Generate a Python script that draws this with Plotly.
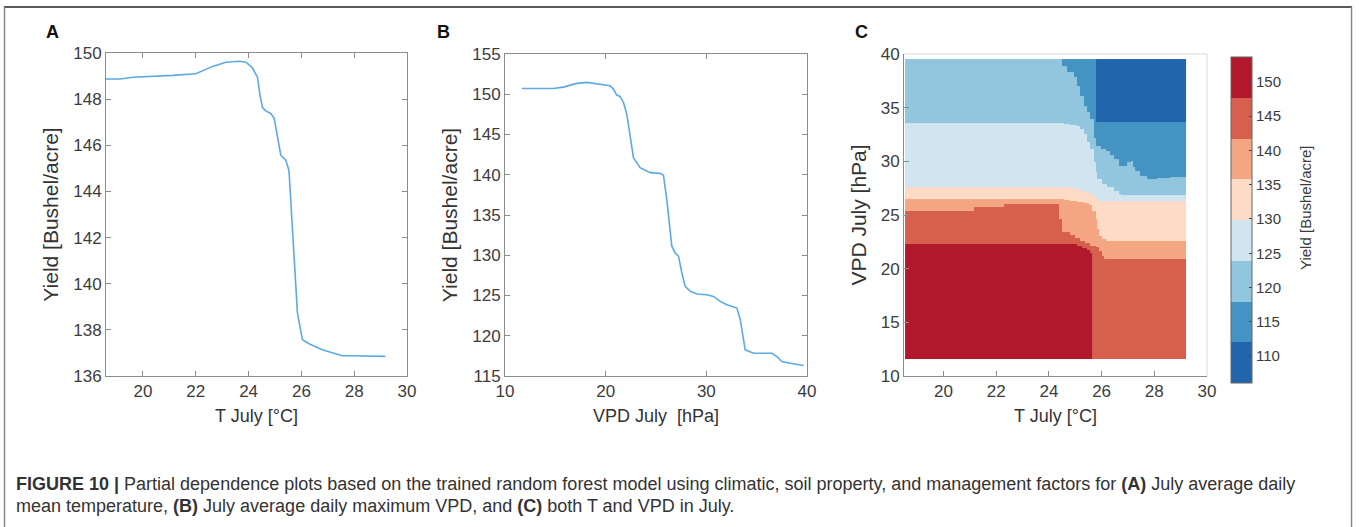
import plotly.graph_objects as go

W, H = 1359, 527
FONT = "Liberation Sans, Arial, Helvetica, sans-serif"

# ---------------- Panel A: partial dependence on T July ----------------
t_a = [18.6, 19.13, 19.62, 20.5, 21.13, 22.0, 22.13, 22.64, 23.14, 23.65, 23.9,
       24.15, 24.34, 24.43, 24.53, 24.65, 24.84, 24.97, 25.22, 25.41, 25.53,
       25.69, 25.85, 26.04, 26.29, 26.79, 27.55, 27.92, 29.18]
yield_a = [148.87, 148.87, 148.95, 148.98, 149.03, 149.10, 149.16, 149.42, 149.60,
           149.64, 149.60, 149.35, 148.94, 148.18, 147.63, 147.49, 147.38, 147.17,
           145.57, 145.35, 144.91, 141.64, 138.74, 137.57, 137.40, 137.14, 136.88,
           136.88, 136.85]

# ---------------- Panel B: partial dependence on VPD July ----------------
vpd_b = [11.66, 14.8, 15.8, 17.13, 18.12, 19.45, 20.43, 20.77, 21.1, 21.43, 21.77,
         22.1, 22.43, 22.76, 23.42, 24.42, 25.41, 25.74, 26.07, 26.57, 26.9, 27.24,
         27.57, 27.9, 28.4, 29.06, 30.05, 30.72, 31.38, 32.04, 33.04, 33.37, 33.86,
         34.69, 36.02, 36.52, 37.01, 37.51, 38.34, 39.66]
yield_b = [150.72, 150.72, 150.89, 151.35, 151.47, 151.26, 151.05, 150.64, 149.9,
           149.73, 148.98, 147.52, 144.83, 142.13, 140.88, 140.26, 140.17, 139.93,
           136.94, 131.12, 130.29, 129.87, 127.8, 126.14, 125.52, 125.18, 125.1,
           124.89, 124.27, 123.85, 123.44, 121.99, 118.25, 117.83, 117.83, 117.83,
           117.42, 116.79, 116.59, 116.3]

# ---------------- Panel C: 2-D partial dependence (class boundaries) ----------------
# Each boundary: VPD level (step value starting at the given T) separating classes
b1_t = [18.54, 25.08, 25.27, 25.45, 25.58, 25.64]
b1_v = [22.28, 22.13, 21.88, 21.72, 21.50, 11.62]
b2_t = [18.54, 21.16, 22.30, 24.38, 24.51, 24.82, 25.01, 25.20, 25.39, 25.58, 25.77,
        25.90, 26.02, 26.09]
b2_v = [25.39, 25.70, 26.01, 24.61, 23.37, 23.12, 22.90, 22.59, 22.37, 22.13, 21.97,
        21.66, 21.19, 20.88]
b3_t = [18.54, 24.57, 24.82, 25.08, 25.33, 25.52, 25.64, 25.77, 25.83, 25.90, 26.02,
        26.15]
b3_v = [26.48, 26.42, 26.32, 26.23, 26.10, 25.92, 25.39, 24.61, 23.68, 23.06, 22.75,
        22.59]
b4_t = [18.54, 24.76, 25.08, 25.33, 25.52, 25.71, 25.83]
b4_v = [27.57, 27.47, 27.35, 27.16, 26.94, 26.63, 26.32]
b5_t = [18.54, 24.57, 24.82, 25.08, 25.20, 25.33, 25.45, 25.58, 25.71, 25.77, 25.83,
        26.02, 26.21, 26.46, 26.65, 26.72]
b5_v = [33.57, 33.50, 33.38, 33.25, 33.01, 32.54, 31.76, 31.14, 29.90, 28.96, 28.34,
        27.88, 27.57, 27.25, 26.94, 26.88]
b6_t = [18.54, 24.51, 24.70, 24.95, 25.08, 25.20, 25.33, 25.45, 25.58, 25.71, 25.77,
        25.96, 26.15, 26.33, 26.46, 26.65, 26.97, 27.10, 27.20, 27.28, 27.47, 27.72,
        28.10, 28.60]
b6_v = [39.53, 38.91, 38.29, 37.82, 37.05, 36.11, 35.18, 34.56, 33.94, 32.20, 31.45,
        31.14, 30.99, 30.60, 30.21, 29.59, 29.90, 30.05, 29.43, 29.12, 28.65, 28.34,
        28.44, 28.50]
b7_t = [18.54, 25.77]
b7_v = [39.53, 33.63]

t_min, t_max = 18.54, 29.22
v_min, v_max = 11.62, 39.53
class_yield = [150.6, 144.7, 138.8, 132.8, 126.9, 120.9, 115.0, 109.1]
band_colors = ["#2166ac", "#4393c3", "#92c5de", "#d1e5f0",
               "#fddbc7", "#f4a582", "#d6604d", "#b2182b"]
cb_min, cb_max = 106.1, 153.6
cbar_ticks = [110, 115, 120, 125, 130, 135, 140, 145, 150]

bounds = [(b1_t, b1_v), (b2_t, b2_v), (b3_t, b3_v), (b4_t, b4_v),
          (b5_t, b5_v), (b6_t, b6_v), (b7_t, b7_v)]


def step_val(bt, bv, t):
    val = bv[0]
    for ti, vi in zip(bt, bv):
        if ti <= t + 1e-9:
            val = vi
    return val


cols = sorted(set(t for bt, _ in bounds for t in bt) | {t_max})
col_bounds = [[step_val(bt, bv, cols[i]) for bt, bv in bounds] for i in range(len(cols) - 1)]
rows = sorted(set(v for _, bv in bounds for v in bv if v_min <= v <= v_max) | {v_min, v_max})
z = []
for j in range(len(rows) - 1):
    vc = 0.5 * (rows[j] + rows[j + 1])
    z.append([class_yield[sum(1 for b in cb if b <= vc)] for cb in col_bounds])

n = len(band_colors)
colorscale = []
for i, c in enumerate(band_colors):
    colorscale.append([i / n, c])
    colorscale.append([(i + 1) / n, c])

LINE_COLOR = "#5eaae0"
AX = "#8c8c8c"
TICKFONT = dict(family=FONT, size=17, color="#3c3c3c")


def px_x(a, b):
    return [a / W, b / W]


def px_y(top, bottom):
    return [1 - bottom / H, 1 - top / H]


fig = go.Figure()
fig.add_trace(go.Scatter(x=t_a, y=yield_a, mode="lines",
                         line=dict(color=LINE_COLOR, width=1.6),
                         xaxis="x", yaxis="y", showlegend=False))
fig.add_trace(go.Scatter(x=vpd_b, y=yield_b, mode="lines",
                         line=dict(color=LINE_COLOR, width=1.6),
                         xaxis="x2", yaxis="y2", showlegend=False))
fig.add_trace(go.Heatmap(
    x=cols, y=rows, z=z, zmin=cb_min, zmax=cb_max, colorscale=colorscale,
    xaxis="x3", yaxis="y3", zsmooth=False,
    colorbar=dict(
        x=1231 / W, xanchor="left", xpad=0, ypad=0,
        y=1 - 220 / H, yanchor="middle",
        thickness=21, thicknessmode="pixels",
        len=326, lenmode="pixels",
        outlinecolor="#666666", outlinewidth=1,
        tickvals=cbar_ticks, ticks="inside", ticklen=3, tickcolor="#444444",
        tickfont=dict(family=FONT, size=15, color="#3c3c3c"),
    ),
    hoverinfo="skip"))


def axis(domain, rng, tickvals, title, title_size, anchor):
    return dict(domain=domain, range=rng, tickvals=tickvals, anchor=anchor,
                showline=True, linecolor=AX, linewidth=1, mirror="ticks",
                ticks="inside", ticklen=5, tickcolor=AX, showgrid=False,
                zeroline=False, tickfont=TICKFONT, automargin=False,
                title=dict(text=title, standoff=8,
                           font=dict(family=FONT, size=title_size, color="#333333")))


fig.update_layout(
    width=W, height=H, template="none",
    margin=dict(l=0, r=0, t=0, b=0),
    paper_bgcolor="white", plot_bgcolor="white",
    font=dict(family=FONT),
    xaxis=axis(px_x(106, 407), [18.6, 30], [20, 22, 24, 26, 28, 30], "T July [°C]", 18, "y"),
    yaxis=axis(px_y(53, 376), [136, 150], [136, 138, 140, 142, 144, 146, 148, 150],
               "Yield [Bushel/acre]", 21, "x"),
    xaxis2=axis(px_x(505, 807), [10, 40], [10, 20, 30, 40], "VPD July  [hPa]", 18, "y2"),
    yaxis2=axis(px_y(54, 376), [115, 155], [115, 120, 125, 130, 135, 140, 145, 150, 155],
                "Yield [Bushel/acre]", 21, "x2"),
    xaxis3=axis(px_x(904, 1207), [18.5, 30], [20, 22, 24, 26, 28, 30], "T July [°C]", 18, "y3"),
    yaxis3=axis(px_y(54, 376), [10, 40], [10, 15, 20, 25, 30, 35, 40],
                "VPD July [hPa]", 21, "x3"),
)
fig.update_xaxes(mirror=False, selector=dict(anchor="y3"))
fig.update_yaxes(mirror=False, selector=dict(anchor="x3"))

shapes = [
    # faint top/right box lines for panel C
    dict(type="line", xref="x3 domain", yref="y3 domain", x0=0, x1=1, y0=1, y1=1,
         line=dict(color="#d9d9d9", width=1)),
    dict(type="line", xref="x3 domain", yref="y3 domain", x0=1, x1=1, y0=0, y1=1,
         line=dict(color="#d9d9d9", width=1)),
    # figure frame
    dict(type="line", xref="paper", yref="paper", x0=4 / W, x1=1352 / W,
         y0=1 - 7 / H, y1=1 - 7 / H, line=dict(color="#222222", width=1.5)),
    dict(type="line", xref="paper", yref="paper", x0=4.5 / W, x1=4.5 / W,
         y0=0, y1=1 - 7 / H, line=dict(color="#888888", width=1.5)),
    dict(type="line", xref="paper", yref="paper", x0=1351.5 / W, x1=1351.5 / W,
         y0=0, y1=1 - 7 / H, line=dict(color="#888888", width=1.5)),
]
fig.update_layout(shapes=shapes)

annotations = []
for lab, xp in (("A", 52), ("B", 443), ("C", 862)):
    annotations.append(dict(text="<b>%s</b>" % lab, xref="paper", yref="paper",
                            x=xp / W, y=1 - 32 / H, xanchor="center", yanchor="middle",
                            showarrow=False, font=dict(family=FONT, size=18, color="#111111")))

# colorbar title
annotations.append(dict(text="Yield [Bushel/acre]", xref="paper", yref="paper",
                        x=1305 / W, y=1 - 208 / H, xanchor="center", yanchor="middle",
                        textangle=-90, showarrow=False,
                        font=dict(family=FONT, size=15, color="#3c3c3c")))

caption1 = ("<b>FIGURE 10 |</b> Partial dependence plots based on the trained random forest model "
            "using climatic, soil property, and management factors for <b>(A)</b> July average daily")
caption2 = ("mean temperature, <b>(B)</b> July average daily maximum VPD, and <b>(C)</b> both T "
            "and VPD in July.")
annotations.append(dict(text=caption1, xref="paper", yref="paper", x=14 / W, y=1 - 484 / H,
                        xanchor="left", yanchor="middle", showarrow=False,
                        font=dict(family=FONT, size=18, color="#333333")))
annotations.append(dict(text=caption2, xref="paper", yref="paper", x=14 / W, y=1 - 506 / H,
                        xanchor="left", yanchor="middle", showarrow=False,
                        font=dict(family=FONT, size=18, color="#333333")))
fig.update_layout(annotations=annotations)

fig.write_html("out.html")
